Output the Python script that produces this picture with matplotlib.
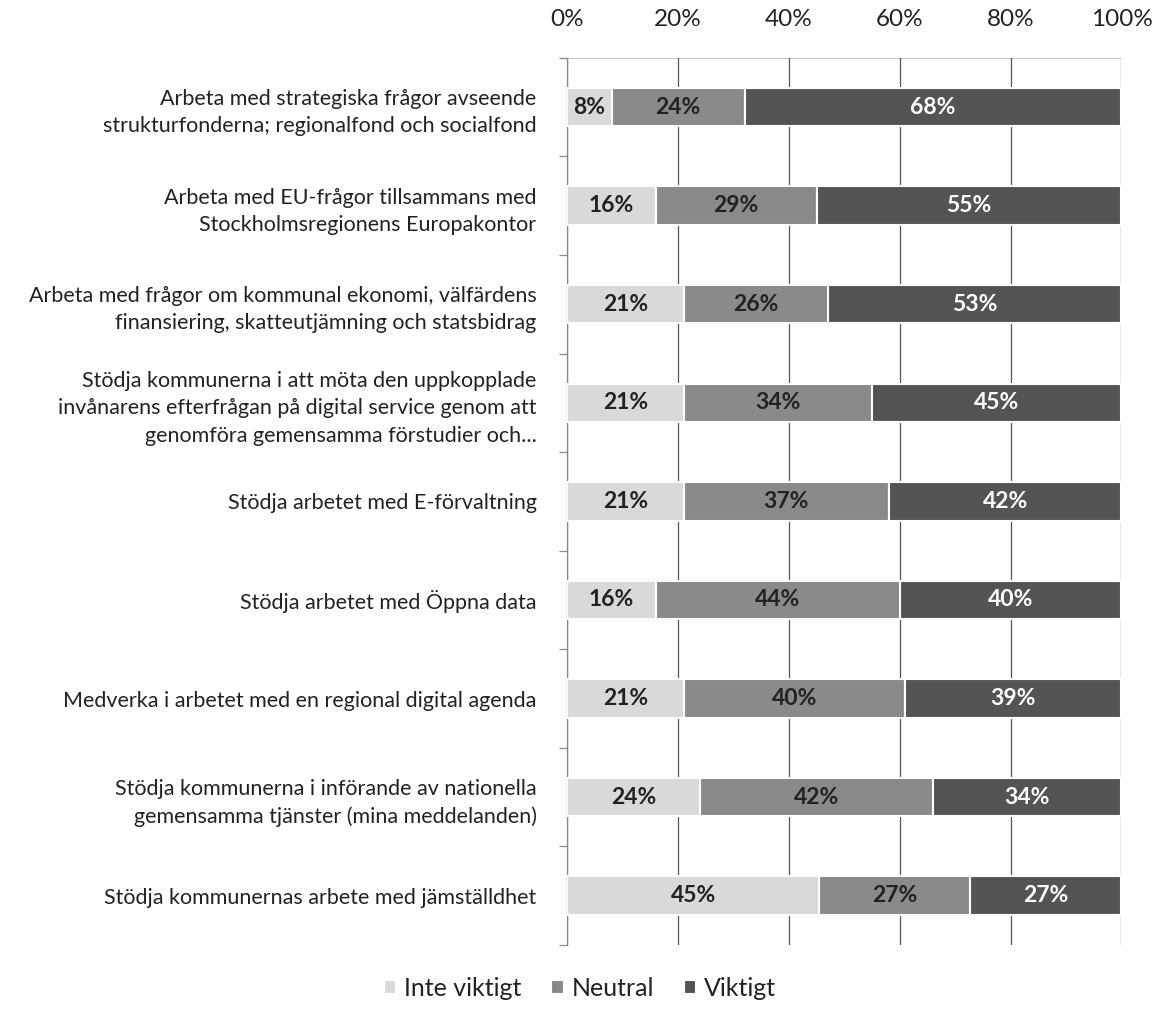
import matplotlib
matplotlib.use("Agg")
import matplotlib.pyplot as plt
import numpy as np

plt.rcParams['font.family'] = ['Lato', 'DejaVu Sans']

categories = [
    "Arbeta med strategiska frågor avseende\nstrukturfonderna; regionalfond och socialfond",
    "Arbeta med EU-frågor tillsammans med\nStockholmsregionens Europakontor",
    "Arbeta med frågor om kommunal ekonomi, välfärdens\nfinansiering, skatteutjämning och statsbidrag",
    "Stödja kommunerna i att möta den uppkopplade\ninvånarens efterfrågan på digital service genom att\ngenomföra gemensamma förstudier och...",
    "Stödja arbetet med E-förvaltning",
    "Stödja arbetet med Öppna data",
    "Medverka i arbetet med en regional digital agenda",
    "Stödja kommunerna i införande av nationella\ngemensamma tjänster (mina meddelanden)",
    "Stödja kommunernas arbete med jämställdhet",
]
inte_viktigt = [8, 16, 21, 21, 21, 16, 21, 24, 45.45]
neutral = [24, 29, 26, 34, 37, 44, 40, 42, 27.27]
viktigt = [68, 55, 53, 45, 42, 40, 39, 34, 27.27]
series_names = ["Inte viktigt", "Neutral", "Viktigt"]
xticks = [0, 20, 40, 60, 80, 100]

colors = ["#d9d9d9", "#8a8a8a", "#545454"]
text_colors = ["#222222", "#222222", "#ffffff"]

fig = plt.figure(figsize=(11.67, 10.15), dpi=100)
ax = fig.add_axes([0.486, 0.069, 0.475, 0.874])

y = np.arange(len(categories))
left = np.zeros(len(categories))
for vals, c, tc, name in zip([inte_viktigt, neutral, viktigt], colors, text_colors, series_names):
    vals = np.array(vals, dtype=float)
    bars = ax.barh(y, vals, left=left, height=0.39, color=c, edgecolor="white", linewidth=1.5, label=name, zorder=3)
    for b, v in zip(bars, vals):
        ax.text(b.get_x() + b.get_width() / 2, b.get_y() + b.get_height() / 2, f"{int(round(v))}%",
                ha="center", va="center", fontsize=16.5, fontweight="bold", color=tc, zorder=4)
    left += vals

ax.set_xlim(0, 100)
ax.set_ylim(len(categories) - 0.5, -0.5)
ax.set_xticks(xticks)
ax.set_xticklabels([f"{t}%" for t in xticks], fontsize=17.5)
ax.xaxis.tick_top()
ax.tick_params(axis="x", length=0, pad=20, colors="#222222")
ax.grid(axis="x", color="#555555", linewidth=0.9, zorder=0)
ax.axhline(-0.5, color="#bbbbbb", linewidth=1.2, zorder=1)

ax.set_yticks(y)
ax.set_yticklabels(categories, fontsize=15.5, linespacing=1.45, color="#222222")
ax.tick_params(axis="y", length=0, pad=22)
ax.set_yticks(np.arange(-0.5, len(categories), 1), minor=True)
ax.tick_params(axis="y", which="minor", length=6, color="#888888", width=0.9)

for s in ["top", "right", "bottom"]:
    ax.spines[s].set_visible(False)
ax.spines["left"].set_color("#888888")
ax.spines["left"].set_linewidth(0.9)

handles, labels = ax.get_legend_handles_labels()
fig.legend(handles, labels, loc="lower center", bbox_to_anchor=(0.497, -0.007), ncol=3,
           frameon=False, fontsize=18, handlelength=0.5, handleheight=0.5,
           handletextpad=0.3, columnspacing=1.2, labelcolor="#222222")

fig.savefig("out.png", dpi=100)
